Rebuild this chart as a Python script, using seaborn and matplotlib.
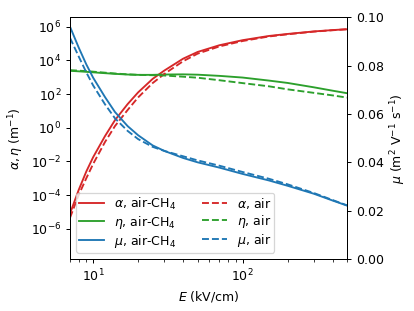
import numpy as np
import pandas as pd
import matplotlib
matplotlib.use("Agg")
import matplotlib.pyplot as plt
import seaborn as sns

# field strength grid (kV/cm)
E = [7, 8, 9, 10, 12, 14, 17, 20, 25, 30, 40, 50, 70, 100, 150, 200, 300, 400, 500]

# log10 of alpha / eta (m^-1)
log_alpha_ch4 = [-5.1, -3.7, -2.6, -1.75, -0.5, 0.45, 1.4, 2.1, 2.9, 3.4, 4.1, 4.5, 4.9,
                 5.2, 5.45, 5.57, 5.72, 5.8, 5.85]
log_alpha_air = [-5.35, -4.0, -3.0, -2.15, -0.85, 0.1, 1.05, 1.8, 2.65, 3.2, 3.95, 4.4, 4.83,
                 5.15, 5.42, 5.55, 5.71, 5.79, 5.85]
log_eta_ch4 = [3.38, 3.35, 3.32, 3.29, 3.24, 3.2, 3.16, 3.14, 3.14, 3.16, 3.17, 3.15, 3.08,
               2.98, 2.8, 2.66, 2.4, 2.2, 2.05]
log_eta_air = [3.42, 3.39, 3.36, 3.33, 3.27, 3.22, 3.17, 3.14, 3.12, 3.1, 3.03, 2.97, 2.82,
               2.65, 2.46, 2.28, 2.07, 1.92, 1.79]

# mobility (m^2 V^-1 s^-1)
mu_ch4 = [0.0961, 0.0875, 0.0805, 0.0750, 0.0670, 0.0608, 0.0550, 0.0512, 0.0470, 0.0447,
          0.0418, 0.0400, 0.0378, 0.0352, 0.0325, 0.0303, 0.0270, 0.0242, 0.0221]
mu_air = [0.0915, 0.0838, 0.0772, 0.0718, 0.0640, 0.0582, 0.0530, 0.0496, 0.0464, 0.0447,
          0.0425, 0.0408, 0.0386, 0.0360, 0.0332, 0.0309, 0.0273, 0.0244, 0.0222]

df = pd.DataFrame({
    "E": E,
    "alpha_ch4": 10.0 ** np.array(log_alpha_ch4),
    "alpha_air": 10.0 ** np.array(log_alpha_air),
    "eta_ch4": 10.0 ** np.array(log_eta_ch4),
    "eta_air": 10.0 ** np.array(log_eta_air),
    "mu_ch4": mu_ch4,
    "mu_air": mu_air,
})

red, green, blue = "#d62728", "#2ca02c", "#1f77b4"

# reference looks like a 10pt figure drawn at ~90 dpi
fig = plt.figure(figsize=(415 / 90, 311 / 90), dpi=90)
ax = fig.add_axes([0.1687, 0.1672, 0.6675, 0.7772])
ax2 = ax.twinx()

sns.lineplot(data=df, x="E", y="alpha_ch4", ax=ax, color=red, label=r"$\alpha$, air-CH$_4$", legend=False)
sns.lineplot(data=df, x="E", y="eta_ch4", ax=ax, color=green, label=r"$\eta$, air-CH$_4$", legend=False)
sns.lineplot(data=df, x="E", y="alpha_air", ax=ax, color=red, linestyle="--", label=r"$\alpha$, air", legend=False)
sns.lineplot(data=df, x="E", y="eta_air", ax=ax, color=green, linestyle="--", label=r"$\eta$, air", legend=False)
sns.lineplot(data=df, x="E", y="mu_ch4", ax=ax2, color=blue, label=r"$\mu$, air-CH$_4$", legend=False)
sns.lineplot(data=df, x="E", y="mu_air", ax=ax2, color=blue, linestyle="--", label=r"$\mu$, air", legend=False)

ax.set_xscale("log")
ax.set_yscale("log")
ax.set_xlim(7, 500)
ax.set_ylim(10 ** -7.8, 10 ** 6.56)
ax2.set_ylim(0, 0.1)

ax.set_xlabel(r"$E$ (kV/cm)")
ax.set_ylabel(r"$\alpha, \eta$ (m$^{-1}$)")
ax2.set_ylabel(r"$\mu$ (m$^2$ V$^{-1}$ s$^{-1}$)")

h1, l1 = ax.get_legend_handles_labels()
h2, l2 = ax2.get_legend_handles_labels()
handles = [h1[0], h1[1], h2[0], h1[2], h1[3], h2[1]]
labels = [l1[0], l1[1], l2[0], l1[2], l1[3], l2[1]]
ax2.legend(handles, labels, loc="lower left", ncol=2, labelspacing=0.15, borderpad=0.25)

fig.savefig("out.png", dpi=90)
